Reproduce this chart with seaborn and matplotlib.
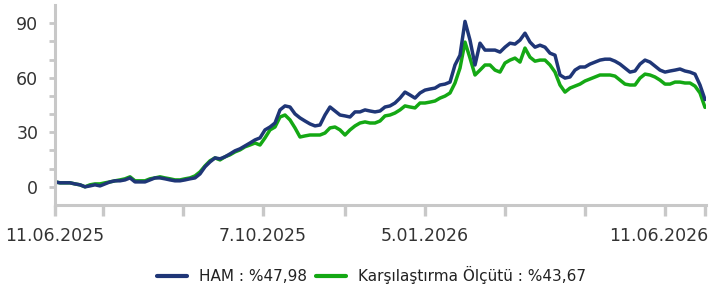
import numpy as np
import pandas as pd
import matplotlib
matplotlib.use("Agg")
import matplotlib.pyplot as plt
import matplotlib.transforms as mtransforms
from matplotlib.lines import Line2D
import seaborn as sns

# series values (% return), one point every trading-day step
ham = [2.7, 2.2, 2.2, 2.2, 1.6, 1.1, 0.0, 0.5, 1.1, 0.5,
       1.6, 2.7, 3.3, 3.3, 3.8, 4.9, 2.7, 2.7, 2.7, 3.8,
       4.9, 4.9, 4.4, 3.8, 3.3, 3.3, 3.8, 4.4, 4.9, 7.1,
       11.0, 13.7, 15.9, 15.4, 16.5, 18.1, 19.8, 20.9, 22.5, 24.1,
       25.8, 26.9, 31.3, 32.9, 35.1, 42.3, 44.5, 43.9, 40.1, 37.9,
       36.2, 34.6, 33.5, 34.0, 39.5, 43.9, 41.7, 39.5, 39.0, 38.4,
       41.2, 41.2, 42.3, 41.7, 41.2, 41.7, 43.9, 44.5, 46.1, 48.8,
       52.1, 50.5, 48.8, 51.6, 53.2, 53.8, 54.3, 56.0, 56.5, 57.6,
       67.0, 72.4, 91.0, 80.7, 67.0, 79.0, 75.2, 75.2, 75.2, 74.1,
       76.8, 79.0, 78.5, 80.7, 84.5, 79.6, 76.8, 77.9, 76.8, 73.5,
       72.4, 61.5, 59.8, 60.4, 64.2, 65.9, 65.9, 67.5, 68.6, 69.7,
       70.2, 70.2, 69.1, 67.5, 65.3, 63.1, 63.7, 67.5, 69.7, 68.6,
       66.4, 64.2, 63.1, 63.7, 64.2, 64.8, 63.7, 63.1, 62.0, 56.0,
       48.0]
benchmark = [2.7, 2.2, 2.2, 2.2, 1.6, 1.1, 0.0, 1.1, 1.6, 1.6,
             2.2, 2.7, 3.3, 3.8, 4.4, 5.5, 3.3, 3.3, 3.3, 4.4,
             4.9, 5.5, 4.9, 4.4, 3.8, 3.8, 4.4, 4.9, 6.0, 8.2,
             11.5, 14.3, 15.9, 14.8, 16.5, 17.6, 19.2, 20.3, 22.0, 23.0,
             24.1, 23.0, 26.9, 31.3, 32.9, 38.4, 39.5, 36.8, 32.4, 27.4,
             28.0, 28.5, 28.5, 28.5, 29.6, 32.4, 32.9, 31.3, 28.5, 31.3,
             33.5, 35.1, 35.7, 35.1, 35.1, 36.2, 39.0, 39.5, 40.6, 42.3,
             44.5, 43.9, 43.4, 46.1, 46.1, 46.6, 47.2, 48.8, 49.9, 51.6,
             57.1, 65.3, 79.6, 70.8, 61.5, 64.2, 67.0, 67.0, 64.2, 63.1,
             68.1, 69.7, 70.8, 68.6, 76.3, 71.3, 69.1, 69.7, 69.7, 67.0,
             63.1, 56.0, 52.1, 54.3, 55.4, 56.5, 58.2, 59.3, 60.4, 61.5,
             61.5, 61.5, 60.9, 58.7, 56.5, 56.0, 56.0, 59.8, 62.0, 61.5,
             60.4, 58.7, 56.5, 56.5, 57.6, 57.6, 57.1, 57.1, 55.4, 51.6,
             43.7]

series_names = ["HAM : %47,98", "Karşılaştırma Ölçütü : %43,67"]
colors = ["#1f3677", "#14a814"]

tick_pos = [0, 9.6, 25.6, 41.6, 58, 74, 90, 106, 122, 130]
tick_labels = ["11.06.2025", "", "", "7.10.2025", "", "5.01.2026", "", "", "11.06.2026", ""]

df = pd.DataFrame({
    "day": list(range(len(ham))) * 2,
    "value": ham + benchmark,
    "series": [series_names[0]] * len(ham) + [series_names[1]] * len(benchmark),
})

sns.set_style("white")
plt.rcParams["font.family"] = ["DejaVu Sans"]

fig = plt.figure(figsize=(7.11, 2.88), dpi=100)
ax = fig.add_axes([55 / 711, 83 / 288, 651 / 711, 200 / 288])

# draw benchmark first so HAM sits on top
sns.lineplot(data=df, x="day", y="value", hue="series",
             hue_order=series_names[::-1], palette=colors[::-1],
             linewidth=2.5, legend=False, ax=ax)

ax.set_xlim(0, 130.2)
ax.set_ylim(-10, 100)
ax.set_xlabel("")
ax.set_ylabel("")

ax.set_yticks([0, 30, 60, 90])
ax.set_yticks([10, 20, 40, 50, 70, 80], minor=True)
ax.set_xticks(tick_pos)
ax.set_xticklabels(tick_labels)

grey = "#c8c8c8"
for side in ["top", "right"]:
    ax.spines[side].set_visible(False)
for side in ["left", "bottom"]:
    ax.spines[side].set_color(grey)
    ax.spines[side].set_linewidth(2.2)

ax.tick_params(axis="y", which="both", left=True, length=4, width=2.0,
               color=grey, labelsize=12.5, labelcolor="#333333", pad=8)
ax.tick_params(axis="x", bottom=True, length=8, width=2.4, color=grey,
               labelsize=12.5, labelcolor="#333333", pad=8)

# keep the last date inside the figure
last = ax.get_xticklabels()[8]
last.set_transform(last.get_transform() + mtransforms.ScaledTranslation(-6 / 100, 0, fig.dpi_scale_trans))

handles = [Line2D([], [], color=c, linewidth=3) for c in colors]
fig.legend(handles, series_names, loc="center", bbox_to_anchor=(0.522, 0.045),
           ncol=2, frameon=False, fontsize=11, handlelength=1.96,
           handletextpad=0.78, columnspacing=0.6, labelcolor="#222222")

fig.savefig("out.png", dpi=100)
